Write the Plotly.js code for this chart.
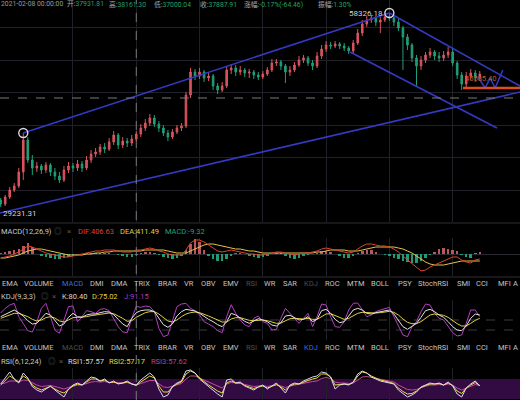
<!DOCTYPE html>
<html><head><meta charset="utf-8">
<script src="https://cdn.plot.ly/plotly-3.0.1.min.js"></script>
<style>html,body{margin:0;padding:0;background:#000;}#chart{width:520px;height:400px;}</style>
</head><body><div id="chart"></div>
<script>
// ---------- price candles (BTC, one candle per period) ----------
const open = [
30276,29676,30726,31776,32376,34476,39276,36276,35076,35376,
34776,35526,34476,33876,33276,34776,35376,35076,35676,35076,
36276,37176,37476,38226,37926,38976,40026,38526,39126,38826,
39426,40176,41076,41826,42576,41676,41076,40326,39726,40476,
41076,41376,46026,49476,48876,49476,48576,48876,47376,46776,
47376,49776,50076,49476,49776,49326,49476,49026,48726,49176,
49776,50826,50976,50376,49476,49776,50526,51276,51576,50826,
50376,51876,52926,53526,53376,53676,53376,53076,52626,53826,
55326,56676,57276,57576,56976,57276,57726,57576,56976,56076,
54726,53526,51576,50376,51276,52026,52476,51876,51576,52026,
52476,50826,49026,47676,48876,49326,48576];
const high = [
30576,31026,32226,32826,35076,40326,39726,37026,35976,35676,
35976,35826,35076,34476,35376,35976,35826,36276,36126,36876,
37776,38076,38676,38826,39576,40626,40326,39726,39576,40026,
40626,41676,42426,43176,43026,42126,41526,40776,40926,41526,
41826,46476,50076,49926,50076,49776,49326,49176,47826,47976,
50376,50676,50526,50376,50076,49926,49776,49476,49626,50226,
51426,51426,51276,50676,50376,50976,51876,52026,51876,51276,
52476,53526,54126,53976,54126,53976,53826,53376,54276,55926,
57276,57876,58026,57876,57726,58026,58326.18,57876,57426,56376,
55176,53826,52026,51876,52476,53076,52776,52476,52626,53226,
53076,51126,49476,49476,49926,49776,49626];
const low = [
29231.31,29376,30426,31476,32076,33276,35826,34026,34476,34176,
34326,33876,33276,32826,32976,34326,34476,34626,34476,34776,
35826,36726,37026,37326,37626,38526,37926,38076,38226,38376,
39126,39726,40626,41376,41226,40476,39876,39126,39426,40176,
40626,41076,45576,48276,48426,47976,48126,46776,46176,46476,
47076,49176,48876,49026,48726,48576,48426,48276,48426,48876,
49476,50376,49776,47826,48876,49476,50226,50826,50376,49776,
50076,51426,52476,52926,53076,52926,52626,52176,52176,53526,
54876,56226,56826,56376,55326,56976,57126,56376,55626,49776,
52776,50976,47226,49776,50826,51576,51276,50976,51126,51576,
50376,48426,46776,47076,48276,47976,48276];
const close = [
29676,30726,31776,32376,34476,39276,36276,35076,35376,34776,
35526,34476,33876,33276,34776,35376,35076,35676,35076,36276,
37176,37476,38226,37926,38976,40026,38526,39126,38826,39426,
40176,41076,41826,42576,41676,41076,40326,39726,40476,41076,
41376,46026,49476,48876,49476,48576,48876,47376,46776,47376,
49776,50076,49476,49776,49326,49476,49026,48726,49176,49776,
50826,50976,50376,49476,49776,50526,51276,51576,50826,50376,
51876,52926,53526,53376,53676,53376,53076,52626,53826,55326,
56676,57276,57576,56976,57276,57726,57576,56976,56076,54726,
53526,51576,50376,51276,52026,52476,51876,51576,52026,52476,
50826,49026,47676,48876,49326,48576,49176];

// ---------- MACD(12,26,9) ----------
const dif = [
-400,-300,-200,0,200,500,800,700,500,300,
100,0,-100,-200,-300,-300,-200,-100,0,100,
200,300,300,400,400,400,300,200,200,200,
400,400,500,600,500,300,200,0,-100,-100,
-100,400,1100,1400,1400,1200,900,600,300,200,
300,400,300,200,100,0,0,-100,-100,0,
100,200,200,100,0,-100,0,100,100,200,
300,500,600,500,400,300,200,100,200,500,
800,1000,1000,900,800,800,700,500,200,-200,
-600,-1000,-1400,-1700,-1600,-1300,-1100,-900,-700,-500,
-300,-300,-600,-800,-900,-600,-500];
const dea = [
-400,-400,-300,-200,-100,100,300,400,500,500,
400,300,200,100,0,-100,-100,-100,-100,0,
0,100,100,200,200,300,300,300,300,300,
300,300,400,400,400,400,400,300,200,100,
100,100,300,500,700,900,1000,1000,900,800,
700,600,500,500,400,300,300,200,100,100,
100,100,100,100,100,100,100,100,100,100,
200,200,300,400,400,400,400,300,300,300,
400,500,600,700,700,700,700,700,600,500,
300,100,-200,-500,-800,-1000,-1100,-1100,-1100,-1000,
-900,-800,-700,-700,-700,-700,-700];
const macdHist = [
100,200,300,400,500,800,1100,700,0,-200,
-300,-400,-500,-500,-400,-300,-200,-100,0,100,
100,100,100,100,100,0,-100,-200,-300,-300,
-100,100,200,200,100,-100,-300,-400,-500,-400,
-200,400,1000,1500,1200,400,-200,-500,-700,-700,
-500,-200,100,100,0,-200,-300,-400,-300,-200,
0,100,100,-200,-400,-500,-400,-200,-100,0,
100,300,300,200,0,-200,-400,-400,-200,100,
300,400,400,200,0,-100,-200,-400,-500,-700,
-800,-900,-900,-700,-400,-100,200,500,600,500,
400,300,-100,-300,-400,100,200];

// ---------- KDJ(9,3,3) ----------
const kLine = [
60,66,74,80,72,62,48,38,40,55,
70,65,48,32,38,58,70,60,58,65,
68,68,72,75,74,66,52,38,30,55,
72,78,80,80,75,55,36,28,38,62,
75,82,80,77,70,60,52,45,36,30,
45,70,65,56,46,40,48,54,50,45,
35,32,42,62,64,58,50,52,60,45,
52,78,82,70,52,42,45,62,80,85,
80,70,68,72,75,78,80,68,50,30,
22,30,40,58,78,82,75,65,58,45,
30,20,18,32,55,68,65];
const dLine = [
55,60,65,70,70,66,60,52,47,50,
57,60,56,47,44,50,57,58,58,60,
63,65,67,70,71,69,63,55,46,48,
58,66,72,75,75,68,57,47,44,50,
60,68,72,74,72,68,62,56,50,44,
44,53,57,57,53,49,48,50,50,48,
44,40,41,48,54,55,53,53,55,52,
52,61,68,69,63,56,52,55,63,70,
73,72,70,71,72,74,76,73,65,53,
43,39,39,45,56,65,68,67,64,58,
48,39,32,32,40,49,55];
const jLine = [
71,85,95,100,60,40,18,14,45,85,
100,60,20,10,50,90,92,45,60,78,
75,70,82,84,78,55,30,14,12,55,
91,88,92,90,75,25,0,5,50,90,
98,100,85,78,65,45,38,30,18,12,
60,96,70,50,35,30,55,62,45,40,
20,22,55,85,70,55,40,55,70,30,
60,98,95,60,30,28,45,80,100,101,
80,60,65,75,80,85,88,60,30,5,
0,30,45,75,98,95,70,55,50,30,
12,2,5,40,80,80,60];

// ---------- RSI(6,12,24) ----------
const rsi1 = [
60,72,84,70,62,82,72,55,48,44,
50,56,48,40,34,50,58,62,58,66,
74,72,66,70,62,66,60,62,66,60,
58,68,76,82,74,50,34,38,55,62,
66,86,88,82,70,62,56,48,40,34,
68,70,62,64,56,52,48,54,58,50,
56,62,52,42,58,62,60,66,70,74,
76,84,82,74,50,58,60,58,64,80,
86,82,74,70,66,64,62,60,48,40,
34,38,44,54,58,62,60,62,58,64,
56,40,34,52,60,66,56];
const rsi2 = [
58,66,76,70,64,76,70,58,52,48,
52,55,50,45,42,50,56,60,58,64,
70,70,66,68,63,64,61,62,64,60,
57,64,70,76,72,56,44,44,54,60,
64,80,86,82,72,64,58,52,46,42,
62,66,62,62,57,54,51,54,56,52,
55,59,54,48,56,60,60,64,67,70,
72,80,80,74,58,59,60,59,63,76,
84,82,76,72,68,66,64,61,52,45,
40,41,46,53,57,60,60,61,58,62,
57,46,41,52,58,63,57];
const rsi3 = [
60,62,66,66,64,68,67,62,58,55,
56,57,55,52,50,53,56,58,58,61,
64,65,64,65,63,63,62,62,63,61,
58,61,64,67,67,60,54,53,56,59,
61,70,76,76,72,67,63,59,55,52,
60,63,62,62,59,57,55,56,57,55,
56,58,56,53,56,58,59,61,63,65,
66,71,73,71,64,62,62,61,62,68,
74,75,73,71,69,67,66,64,58,53,
49,48,49,53,56,58,58,59,58,60,
58,52,48,52,56,59,57];

// ---------- drawn trend lines (candle index, price) ----------
const riseX = [5, 86],            riseY = [40326, 58326.18];
const fallX = [86, 114.9],        fallY = [58326.18, 47376];
const fall2X = [77.3, 109.8],     fall2Y = [52476, 41076];
const baseX = [-0.15, 114.9],     baseY = [28326, 46476];
const supportX = [102.3, 114.9],  supportY = [47076, 47076];
const pathX = [105.6, 107.2, 108.3, 109.4, 111.1];
const pathY = [48726, 47076, 48576, 47076, 49776];
const pivotIdx = [5, 86];
const crossIdx = 30, crossPrice = 45576;
const supportLabel = '45585.40';

// ---------- header texts ----------
const headerDate = '2021-02-08 00:00:00';
const headerItems = [['开','37931.81'],['高','38161.30'],['低','37000.04'],['收','37887.91'],['涨幅','-0.17%(-64.46)'],['振幅','1.30%']];
const TABS = ['EMA','VOLUME','MACD','DMI','DMA','TRIX','BRAR','VR','OBV','EMV','RSI','WR','SAR','KDJ','ROC','MTM','BOLL','PSY','StochRSI','SMI','CCI','MFI','A'];

// ---------- styling ----------
const W = 520, H = 400;
const FONT = 'Roboto, "Noto Sans CJK SC", sans-serif';
const RED = '#d8545c', GREEN = '#1f9f78', BLUE = '#3539c4', ORANGE = '#dd4f1c';
const GRID = '#202028';
const idx = close.map((_, i) => i);
const P = v => 1 - v / H;

const traces = [];
traces.push({type:'candlestick', x:idx, open, high, low, close, xaxis:'x', yaxis:'y',
  increasing:{line:{color:RED,width:1}, fillcolor:RED},
  decreasing:{line:{color:GREEN,width:1}, fillcolor:GREEN},
  whiskerwidth:0, hoverinfo:'none'});
[[riseX,riseY],[fallX,fallY],[fall2X,fall2Y],[baseX,baseY],[pathX,pathY]].forEach(([x,y]) => {
  traces.push({type:'scatter', mode:'lines', x, y, xaxis:'x', yaxis:'y', line:{color:BLUE,width:1.6}, hoverinfo:'skip'});
});
traces.push({type:'scatter', mode:'lines', x:supportX, y:supportY, xaxis:'x', yaxis:'y', line:{color:ORANGE,width:2.6}, hoverinfo:'skip'});
traces.push({type:'scatter', mode:'markers', x:pivotIdx, y:pivotIdx.map(i => high[i]), xaxis:'x', yaxis:'y',
  marker:{symbol:'circle-open', size:9, line:{color:'#d8d8e0', width:1.4}, color:'#d8d8e0'}, hoverinfo:'skip'});

// MACD
traces.push({type:'bar', x:idx, y:macdHist, xaxis:'x', yaxis:'y2', width:0.55,
  marker:{color:macdHist.map(v => v >= 0 ? '#b9565c' : '#1c9c78')}, hoverinfo:'skip'});
traces.push({type:'scatter', mode:'lines', x:idx, y:dea, xaxis:'x', yaxis:'y2', line:{color:'#e3c44a',width:1}, hoverinfo:'skip'});
traces.push({type:'scatter', mode:'lines', x:idx, y:dif, xaxis:'x', yaxis:'y2', line:{color:'#e0442f',width:1}, hoverinfo:'skip'});
// KDJ
traces.push({type:'scatter', mode:'lines', x:idx, y:jLine, xaxis:'x', yaxis:'y3', line:{color:'#b43fc0',width:1}, hoverinfo:'skip'});
traces.push({type:'scatter', mode:'lines', x:idx, y:dLine, xaxis:'x', yaxis:'y3', line:{color:'#e0d040',width:1}, hoverinfo:'skip'});
traces.push({type:'scatter', mode:'lines', x:idx, y:kLine, xaxis:'x', yaxis:'y3', line:{color:'#e4e4e4',width:1}, hoverinfo:'skip'});
// RSI
traces.push({type:'scatter', mode:'lines', x:idx, y:rsi3, xaxis:'x', yaxis:'y4', line:{color:'#c8469a',width:1}, hoverinfo:'skip'});
traces.push({type:'scatter', mode:'lines', x:idx, y:rsi2, xaxis:'x', yaxis:'y4', line:{color:'#e6e03c',width:1}, hoverinfo:'skip'});
traces.push({type:'scatter', mode:'lines', x:idx, y:rsi1, xaxis:'x', yaxis:'y4', line:{color:'#dcd8f0',width:1}, hoverinfo:'skip'});

// annotations
function T(x, y, text, color, size, xa) {
  return {xref:'paper', yref:'paper', x:x/W, y:P(y), text, showarrow:false,
    xanchor:xa||'left', yanchor:'middle', borderpad:0, font:{color, size:size||7.5, family:FONT}};
}
const ann = [];
ann.push(T(0, 4.5, headerDate, '#9a9a9a', 6.8));
const hdrX = [66, 108, 153, 199, 243, 317];
headerItems.forEach(([lab, val], k) => {
  ann.push(T(hdrX[k], 4.5, lab + ':<span style="color:#22a06b">' + val + '</span>', '#a8a8a8', 6.8));
});
// price labels from data
ann.push({xref:'x', yref:'y', x:86, y:high[86], text:high[86].toFixed(2), showarrow:false, xanchor:'right', yanchor:'middle',
  xshift:-5, borderpad:0, font:{color:'#d2d2d2', size:8, family:FONT}});
ann.push({xref:'x', yref:'y', x:0, y:low[0], text:low[0].toFixed(2), showarrow:false, xanchor:'left', yanchor:'top',
  xshift:1, yshift:-1, borderpad:0, font:{color:'#d2d2d2', size:8, family:FONT}});
ann.push({xref:'x', yref:'y', x:supportX[0]+0.3, y:supportY[0], text:supportLabel, showarrow:false, xanchor:'left', yanchor:'bottom',
  yshift:4, borderpad:0, font:{color:'#c9562a', size:7.5, family:FONT}});

// MACD header
ann.push(T(0, 231, 'MACD(12,26,9)', '#c8c8c8'));
ann.push(T(53, 231, '◎', '#555', 7.5));
ann.push(T(66, 231, '×', '#555', 8));
ann.push(T(77, 231, 'DIF:406.63', '#d8443a'));
ann.push(T(119, 231, 'DEA:411.49', '#e3cf48'));
ann.push(T(164, 231, 'MACD:-9.32', '#1fa477'));
// KDJ header
ann.push(T(0, 296, 'KDJ(9,3,3)', '#c8c8c8'));
ann.push(T(40, 296, '◎', '#555', 7.5));
ann.push(T(51, 296, '×', '#555', 8));
ann.push(T(61, 296, 'K:80.40', '#d8d8d8'));
ann.push(T(91, 296, 'D:75.02', '#e3cf48'));
ann.push(T(123, 296, 'J:91.15', '#b03cb8'));
// RSI header
ann.push(T(0, 361, 'RSI(6,12,24)', '#c8c8c8'));
ann.push(T(47, 361, '◎', '#555', 7.5));
ann.push(T(58, 361, '×', '#555', 8));
ann.push(T(67, 361, 'RSI1:57.57', '#d8d8d8'));
ann.push(T(108, 361, 'RSI2:57.17', '#e3d83a'));
ann.push(T(150, 361, 'RSI3:57.62', '#b8479a'));
// tab bars
const TAB_X = [1,23,61,89,110,133,157,183,200,222,245,263,282,303,324,346,370,397,417,456,475,497,512];
function tabBar(y, active, dim) {
  TABS.forEach((t, k) => {
    let c = '#c4c4c4';
    if (t === active) c = '#3f6ad6';
    else if (dim.includes(t)) c = '#4e4e4e';
    ann.push(T(TAB_X[k], y, t, c, 7.5));
  });
}
tabBar(283, 'MACD', ['RSI','KDJ']);
tabBar(347, 'KDJ', ['RSI','MACD']);

const shapes = [
  {type:'rect', xref:'paper', x0:0, x1:1, yref:'y4', y0:30, y1:70, fillcolor:'#330b43', line:{width:0}, layer:'below'},
  {type:'line', xref:'x', x0:crossIdx, x1:crossIdx, yref:'paper', y0:0, y1:1, line:{color:'#7a7a7a', width:1, dash:'dash'}},
  {type:'line', xref:'paper', x0:0, x1:1, yref:'y', y0:crossPrice, y1:crossPrice, line:{color:'#7a7a7a', width:1, dash:'dash'}},
  {type:'line', xref:'paper', x0:0, x1:1, yref:'paper', y0:P(223), y1:P(223), line:{color:'#2c2c36', width:1}},
  {type:'line', xref:'paper', x0:0, x1:1, yref:'paper', y0:P(277), y1:P(277), line:{color:'#2c2c36', width:1}},
  {type:'line', xref:'paper', x0:0, x1:1, yref:'y3', y0:50, y1:50, line:{color:'#3a3a44', width:1, dash:'dash'}, layer:'below'},
  {type:'line', xref:'paper', x0:0, x1:1, yref:'y3', y0:20, y1:20, line:{color:'#3a3a44', width:1, dash:'dash'}, layer:'below'}
];

const hidden = {showticklabels:false, ticks:'', zeroline:false, showline:false, fixedrange:true};
const layout = {
  width:W, height:H, margin:{l:0,r:0,t:0,b:0},
  paper_bgcolor:'#000', plot_bgcolor:'#000', showlegend:false, bargap:0, boxgap:0.5,
  font:{family:FONT, color:'#ccc'},
  xaxis:Object.assign({}, hidden, {range:[-0.15,114.9], tickmode:'array', tickvals:[16,30,44,58,72,86,100],
    showgrid:true, gridcolor:GRID, gridwidth:1, rangeslider:{visible:false}, anchor:'y4'}),
  yaxis:Object.assign({}, hidden, {domain:[P(222),1], range:[26976,60276], tickmode:'linear', tick0:31776, dtick:4875,
    showgrid:true, gridcolor:GRID}),
  yaxis2:Object.assign({}, hidden, {domain:[P(276),P(238)], range:[-2200,1600], tickmode:'array', tickvals:[0],
    showgrid:true, gridcolor:'#2a2a34'}),
  yaxis3:Object.assign({}, hidden, {domain:[P(340),P(300)], range:[-10,110], showgrid:false}),
  yaxis4:Object.assign({}, hidden, {domain:[0,P(368)], range:[28,92], showgrid:false}),
  annotations:ann, shapes
};
Plotly.newPlot('chart', traces, layout, {displayModeBar:false, staticPlot:true});
</script></body></html>
